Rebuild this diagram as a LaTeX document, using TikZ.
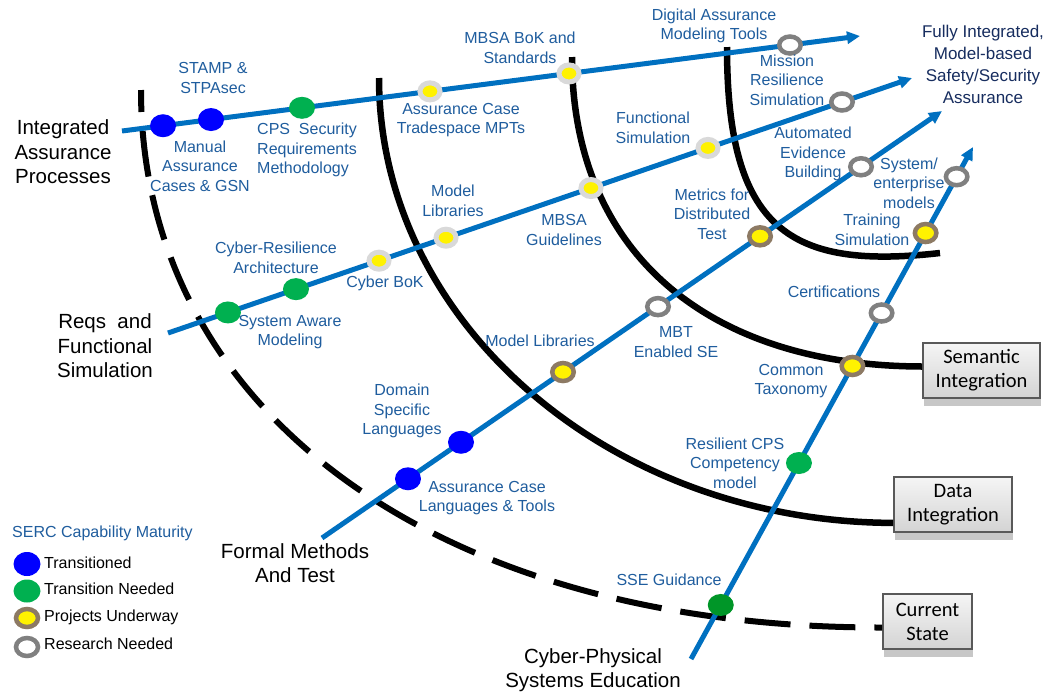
\documentclass[tikz,border=0pt]{standalone}
\usepackage{fontspec}
\setmainfont{Liberation Sans}
\newfontfamily\calfont{Carlito}
\usetikzlibrary{arrows.meta,shapes.geometric,calc,shadows}
\definecolor{lineblue}{RGB}{0,112,192}
\definecolor{txtblue}{RGB}{31,93,158}
\definecolor{navy}{RGB}{23,45,95}
\definecolor{dotblue}{RGB}{0,0,255}
\definecolor{dotgreen}{RGB}{0,176,80}
\definecolor{dkgreen}{RGB}{0,150,40}
\definecolor{ringbrown}{RGB}{141,122,100}
\definecolor{ringgray}{RGB}{128,128,128}
\definecolor{ringlight}{RGB}{217,217,217}
\begin{document}
\begin{tikzpicture}[x=1pt,y=-1pt,
  track/.style={draw=lineblue, line width=5pt, -{Triangle[length=13pt,width=12pt]}},
  stage/.style={draw=black, line width=6.5pt},
  dotbase/.style={ellipse, inner sep=0pt, outer sep=0pt},
  trans/.style={dotbase, fill=dotblue, minimum width=26pt, minimum height=23pt},
  tneed/.style={dotbase, fill=dotgreen, minimum width=26pt, minimum height=22pt},
  underway/.style={dotbase, fill=yellow, draw=ringbrown, line width=4.5pt, minimum width=21.5pt, minimum height=18pt},
  research/.style={dotbase, fill=white, draw=ringgray, line width=4.5pt, minimum width=21.5pt, minimum height=17pt},
  planned/.style={dotbase, fill=yellow, draw=ringlight, line width=5pt, minimum width=20pt, minimum height=17pt},
  lbl/.style={text=txtblue, align=center, inner sep=0pt, font=\fontsize{16}{19.5}\selectfont},
  blk/.style={text=black, align=center, inner sep=0pt, font=\fontsize{20.5}{24.5}\selectfont},
  legtxt/.style={text=black, anchor=west, inner sep=0pt, font=\fontsize{16}{19}\selectfont},
  statebox/.style={draw=black!65, line width=1.8pt, top color=black!4, bottom color=black!17,
    minimum height=55pt, inner sep=0pt, align=center, font=\calfont\fontsize{20.5}{24}\selectfont,
    general shadow={fill=black!22, shadow yshift=-8pt, shadow xshift=1pt}},
]
\useasboundingbox[fill=white] (0,0) rectangle (1053,697);

% state boxes
\node[statebox, minimum width=117pt] (semantic) at (981.5,370.5) {Semantic\\Integration};
\node[statebox, minimum width=118pt] (data) at (953,504.5) {Data\\Integration};
\node[statebox, minimum width=89pt] (current) at (927.5,621.5) {Current\\State};

% maturity arcs
\coordinate (cs0) at (141,90);
\coordinate (db0) at (379,78);
\coordinate (sm0) at (572,57);
\coordinate (ts0) at (727,47);
\coordinate (ts1) at (940,253);
\draw[stage, line width=6pt, dash pattern=on 46pt off 19pt, dash phase=24pt] (cs0) .. controls (141,410) and (435,628) .. ([yshift=-6pt]current.west);
\draw[stage] (db0) .. controls (379,322) and (609,522) .. ([yshift=10pt]data.south west);
\draw[stage] (sm0) .. controls (572,250) and (705,366) .. ([yshift=4pt]semantic.west);
\draw[stage] (ts0) .. controls (727,230) and (790,270) .. (ts1);

% tracks
\coordinate (s1) at (122,131); \coordinate (e1) at (860,36);
\coordinate (s2) at (168,333); \coordinate (e2) at (912,78);
\coordinate (s3) at (322,538); \coordinate (e3) at (942,111);
\coordinate (s4) at (691,659); \coordinate (e4) at (973,147);
\draw[track] (s1) -- (e1);
\draw[track] (s2) -- (e2);
\draw[track] (s3) -- (e3);
\draw[track] (s4) -- (e4);

% track 1 dots
\node[trans] (a1) at ($(s1)!0.0556!(e1)$) {};
\node[trans] (a2) at ($(s1)!0.1206!(e1)$) {};
\node[tneed] (a3) at ($(s1)!0.2439!(e1)$) {};
\node[planned] (a4) at ($(s1)!0.4173!(e1)$) {};
\node[planned] (a5) at ($(s1)!0.6057!(e1)$) {};
\node[research] (a6) at ($(s1)!0.9051!(e1)$) {};
% track 2 dots
\node[tneed] (b1) at ($(s2)!0.0806!(e2)$) {};
\node[tneed] (b2) at ($(s2)!0.172!(e2)$) {};
\node[planned] (b3) at ($(s2)!0.2836!(e2)$) {};
\node[planned] (b4) at ($(s2)!0.3737!(e2)$) {};
\node[planned] (b5) at ($(s2)!0.5685!(e2)$) {};
\node[planned] (b6) at ($(s2)!0.7258!(e2)$) {};
\node[research] (b7) at ($(s2)!0.9059!(e2)$) {};
% track 3 dots
\node[trans] (c1) at ($(s3)!0.1387!(e3)$) {};
\node[trans] (c2) at ($(s3)!0.2242!(e3)$) {};
\node[underway] (c3) at ($(s3)!0.3887!(e3)$) {};
\node[research] (c4) at ($(s3)!0.5419!(e3)$) {};
\node[underway] (c5) at ($(s3)!0.7065!(e3)$) {};
\node[research] (c6) at ($(s3)!0.8694!(e3)$) {};
% track 4 dots
\node[tneed, fill=dkgreen] (d1) at ($(s4)!0.1055!(e4)$) {};
\node[tneed] (d2) at ($(s4)!0.3828!(e4)$) {};
\node[underway] (d3) at ($(s4)!0.5723!(e4)$) {};
\node[research] (d4) at ($(s4)!0.6758!(e4)$) {};
\node[underway] (d5) at ($(s4)!0.832!(e4)$) {};
\node[research] (d6) at ($(s4)!0.942!(e4)$) {};

% track 1 labels
\node[lbl] (la1) at (213,78) {STAMP \&\\STPAsec};
\node[lbl] (la2) at (200,166) {Manual\\Assurance\\Cases \& GSN};
\node[lbl, align=left, anchor=west] (la3) at (257,150) {CPS\ \ Security\\Requirements\\Methodology};
\node[lbl] (la4) at (461,120) {Assurance Case\\Tradespace MPTs};
\node[lbl] (la5) at (520,48) {MBSA BoK and\\Standards};
\node[lbl] (la6) at (714,26) {Digital Assurance\\Modeling Tools};
\node[lbl] (la7) at (787,80) {Mission\\Resilience\\Simulation};
% track 2 labels
\node[lbl] (lb1) at (276,258) {Cyber-Resilience\\Architecture};
\node[lbl] (lb2) at (290,332) {System Aware\\Modeling};
\node[lbl] (lb3) at (385,283) {Cyber BoK};
\node[lbl] (lb4) at (453,201) {Model\\Libraries};
\node[lbl] (lb5) at (564,230) {MBSA\\Guidelines};
\node[lbl] (lb6) at (653,128) {Functional\\Simulation};
\node[lbl] (lb7) at (813,154) {Automated\\Evidence\\Building};
% track 3 labels
\node[lbl] (lc1) at (402,411) {Domain\\Specific\\Languages};
\node[lbl] (lc2) at (487,498) {Assurance Case\\Languages \& Tools};
\node[lbl] (lc3) at (540,341) {Model Libraries};
\node[lbl] (lc4) at (676,342) {MBT\\Enabled SE};
\node[lbl] (lc5) at (712,214) {Metrics for\\Distributed\\Test};
\node[lbl] (lc6) at (909,183) {System/\\enterprise\\models};
% track 4 labels
\node[lbl] (ld1) at (669,580) {SSE Guidance};
\node[lbl] (ld2) at (735,463) {Resilient CPS\\Competency\\model};
\node[lbl] (ld3) at (791,381) {Common\\Taxonomy};
\node[lbl] (ld4) at (834,292) {Certifications};
\node[lbl] (ld5) at (872,230) {Training\\Simulation};

% track titles
\node[blk] (t1) at (63,152) {Integrated\\Assurance\\Processes};
\node[blk] (t2) at (105,346) {Reqs\ \ and\\Functional\\Simulation};
\node[blk] (t3) at (295,563) {Formal Methods\\And Test};
\node[blk] (t4) at (593,670) {Cyber-Physical\\Systems Education};
\node[text=navy, align=center, inner sep=0pt, font=\fontsize{17}{22}\selectfont] (goal) at (983,64) {Fully Integrated,\\Model-based\\Safety/Security\\Assurance};

% legend
\node[text=txtblue, anchor=west, inner sep=0pt, font=\fontsize{16}{19}\selectfont] (lgt) at (12,533) {SERC Capability Maturity};
\node[trans, minimum width=27pt, minimum height=24pt] (g1) at (27,564) {};
\node[tneed, minimum width=27pt, minimum height=23pt] (g2) at (27,591) {};
\node[underway, minimum width=22pt, minimum height=18pt] (g3) at (27,618) {};
\node[research, minimum width=22pt, minimum height=18pt] (g4) at (27,647) {};
\node[legtxt] (gt1) at (44,563) {Transitioned};
\node[legtxt] (gt2) at (44,589) {Transition Needed};
\node[legtxt] (gt3) at (44,617) {Projects Underway};
\node[legtxt] (gt4) at (44,644) {Research Needed};
\end{tikzpicture}
\end{document}
